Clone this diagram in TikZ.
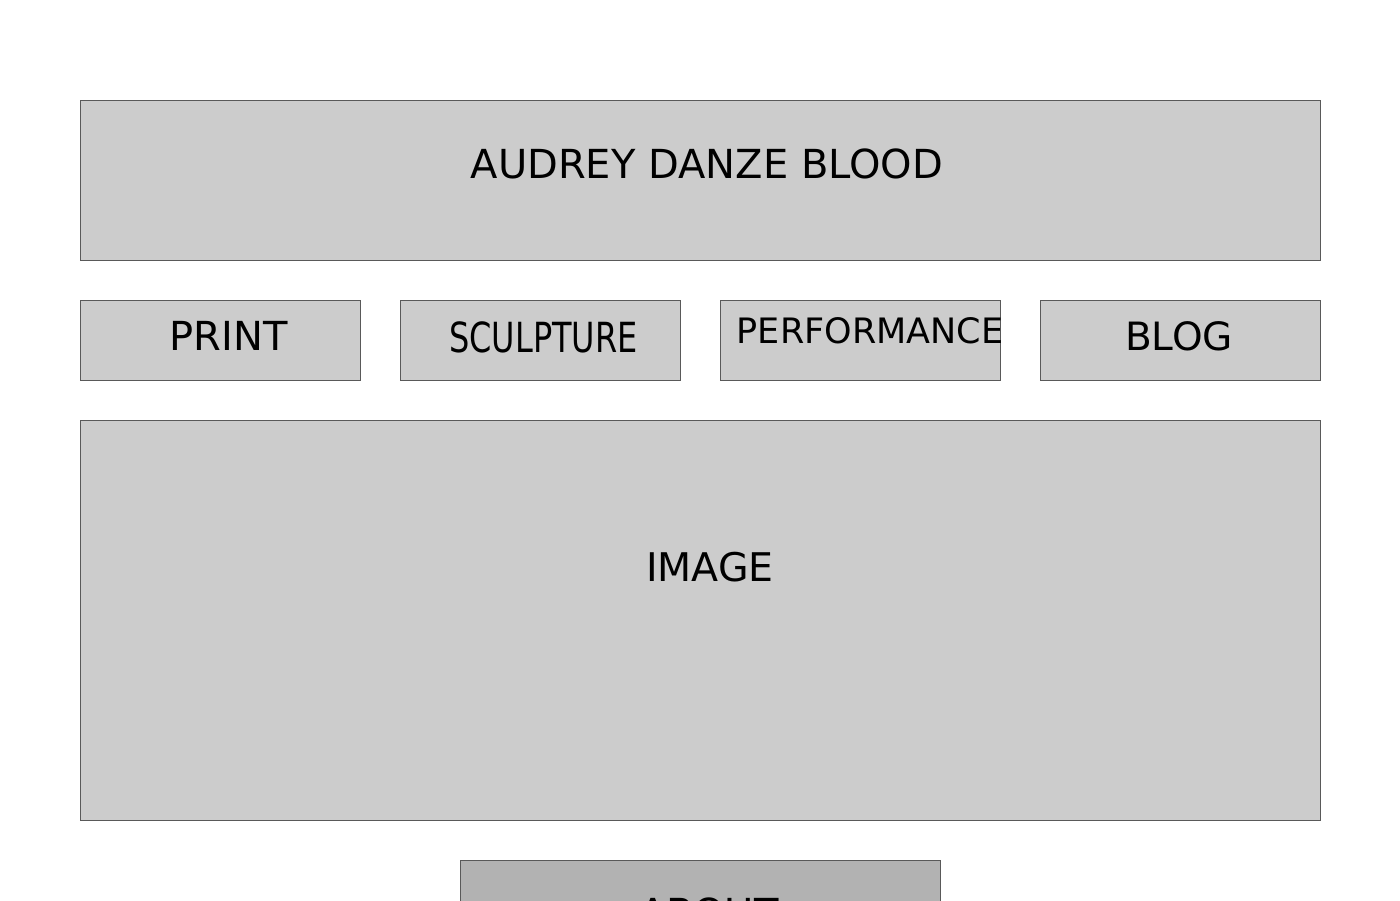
\documentclass[tikz,border=0pt]{standalone}
\usepackage{fontspec}
\setmainfont{DejaVu Sans}
\begin{document}
\begin{tikzpicture}[x=1pt,y=-1pt,
  panel/.style={draw=black!65,line width=1pt,fill=black!20,inner sep=0,outer sep=0},
  darkpanel/.style={panel,fill=black!30},
  caption/.style={anchor=base,inner sep=0,text=black}]
\useasboundingbox (0,0) rectangle (1400,900);
\clip (0,0) rectangle (1400,900);
% page sections
\node[panel,minimum width=1240pt,minimum height=160pt] (header) at (700,180) {};
\node[panel,minimum width=280pt,minimum height=80pt] (print) at (220,340) {};
\node[panel,minimum width=280pt,minimum height=80pt] (sculpture) at (540,340) {};
\node[panel,minimum width=280pt,minimum height=80pt] (performance) at (860,340) {};
\node[panel,minimum width=280pt,minimum height=80pt] (blog) at (1180,340) {};
\node[panel,minimum width=1240pt,minimum height=400pt] (image) at (700,620) {};
\node[darkpanel,minimum width=480pt,minimum height=160pt] (about) at (700,940) {};
% labels
\node[caption,font=\fontsize{40pt}{42pt}\selectfont] (headerlbl) at (707,178) {AUDREY DANZE BLOOD};
\node[caption,font=\fontsize{40pt}{42pt}\selectfont] (printlbl) at (228.5,350) {PRINT};
\node[caption,font=\fontsize{41.5pt}{42pt}\selectfont] (sculptlbl) at (543.5,352) {\scalebox{0.77}[1]{SCULPTURE}};
\node[caption,font=\fontsize{35pt}{36pt}\selectfont] (perflbl) at (870,343) {PERFORMANCE};
\node[caption,font=\fontsize{39pt}{40pt}\selectfont] (bloglbl) at (1179,350) {BLOG};
\node[caption,font=\fontsize{39.5pt}{40pt}\selectfont] (imagelbl) at (710,581) {IMAGE};
\node[caption,font=\fontsize{40pt}{42pt}\selectfont] (aboutlbl) at (709,927) {ABOUT};
\end{tikzpicture}
\end{document}
